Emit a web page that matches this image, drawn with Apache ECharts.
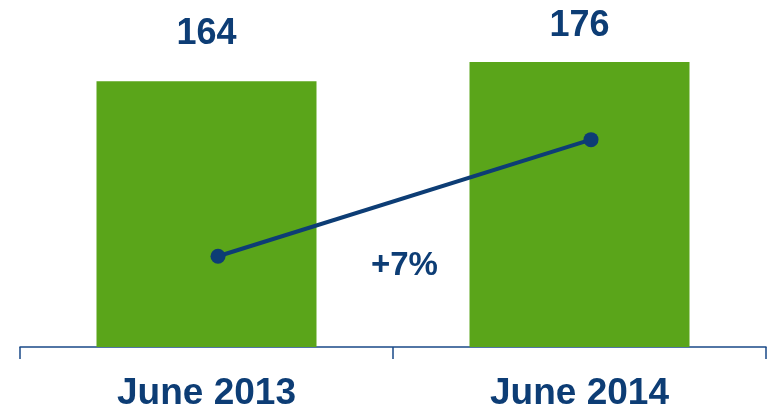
<!DOCTYPE html>
<html>
<head>
<meta charset="utf-8">
<script src="https://cdn.jsdelivr.net/npm/echarts@6/dist/echarts.min.js"></script>
<style>
  html, body { margin: 0; padding: 0; background: #ffffff; }
  #chart { width: 771px; height: 410px; }
</style>
</head>
<body>
<div id="chart"></div>
<script>
// Periods shown on the category axis
const categories = ['June 2013', 'June 2014'];
// Bar values (labelled above each bar)
const barValues = [164, 176];
// Trend line drawn across the bars
const trendValues = [56, 128];
// Growth annotation between the two periods
const growthLabel = '+7%';

const navy = '#0D3D75';
const green = '#5AA51A';

const chart = echarts.init(document.getElementById('chart'));

chart.setOption({
  animation: false,
  backgroundColor: '#ffffff',
  grid: [
    { left: 20, width: 746, top: 23, bottom: 63, containLabel: false, outerBoundsMode: 'none' },
    { left: 31.5, width: 746, top: 23, bottom: 63, containLabel: false, outerBoundsMode: 'none' }
  ],
  xAxis: [
    {
      type: 'category',
      gridIndex: 0,
      data: categories,
      axisLine: { show: true, lineStyle: { color: '#1A4A88', width: 1.5 } },
      axisTick: { show: true, length: 12, inside: false, lineStyle: { color: '#1A4A88', width: 1.5 } },
      axisLabel: {
        margin: 28,
        fontFamily: 'Liberation Sans, Arial, sans-serif',
        fontWeight: 'bold',
        fontSize: 37,
        color: navy
      }
    },
    {
      type: 'category',
      gridIndex: 1,
      data: categories,
      show: false
    }
  ],
  yAxis: [
    { type: 'value', gridIndex: 0, min: 0, max: 200, show: false },
    { type: 'value', gridIndex: 1, min: 0, max: 200, show: false }
  ],
  series: [
    {
      type: 'bar',
      xAxisIndex: 0,
      yAxisIndex: 0,
      barWidth: 220,
      itemStyle: { color: green },
      data: barValues.map((v, i) => ({
        value: v,
        label: { distance: i === 0 ? 29 : 18 }
      })),
      label: {
        show: true,
        position: 'top',
        fontFamily: 'Liberation Sans, Arial, sans-serif',
        fontWeight: 'bold',
        fontSize: 36,
        color: navy
      }
    },
    {
      type: 'line',
      xAxisIndex: 1,
      yAxisIndex: 1,
      data: trendValues,
      symbol: 'circle',
      symbolSize: 15,
      lineStyle: { color: navy, width: 4 },
      itemStyle: { color: navy },
      z: 5
    }
  ],
  graphic: [
    {
      type: 'text',
      left: 371,
      top: 249,
      style: {
        text: growthLabel,
        fontFamily: 'Liberation Sans, Arial, sans-serif',
        fontWeight: 'bold',
        fontSize: 33,
        fill: navy
      }
    }
  ]
});
</script>
</body>
</html>
